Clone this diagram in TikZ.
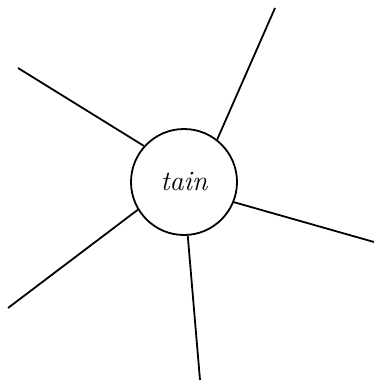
\documentclass[tikz,border=0pt]{standalone}
\usepackage{fontspec}
\usepackage{tikz}
\usetikzlibrary{positioning}

\begin{document}
\begin{tikzpicture}[x=1pt,y=-1pt,
  hub/.style={draw,circle,line width=1.8pt,minimum size=106pt,inner sep=0pt,font=\fontsize{28}{33}\selectfont\itshape},
  spoke/.style={line width=1.8pt}]
  \useasboundingbox (0,0) rectangle (374,383);
  \node[hub] (tain) at (184,182) {tain};
  % outer ends of the spokes
  \coordinate (ne) at (275,8);
  \coordinate (nw) at (18,68);
  \coordinate (ea) at (374,242);
  \coordinate (sw) at (8,308);
  \coordinate (so) at (200,380);
  \draw[spoke] (tain.52.7) -- (ne);
  \draw[spoke] (tain.138) -- (nw);
  \draw[spoke] (tain.-22.8) -- (ea);
  \draw[spoke] (tain.211.7) -- (sw);
  \draw[spoke] (tain.274) -- (so);
\end{tikzpicture}
\end{document}
